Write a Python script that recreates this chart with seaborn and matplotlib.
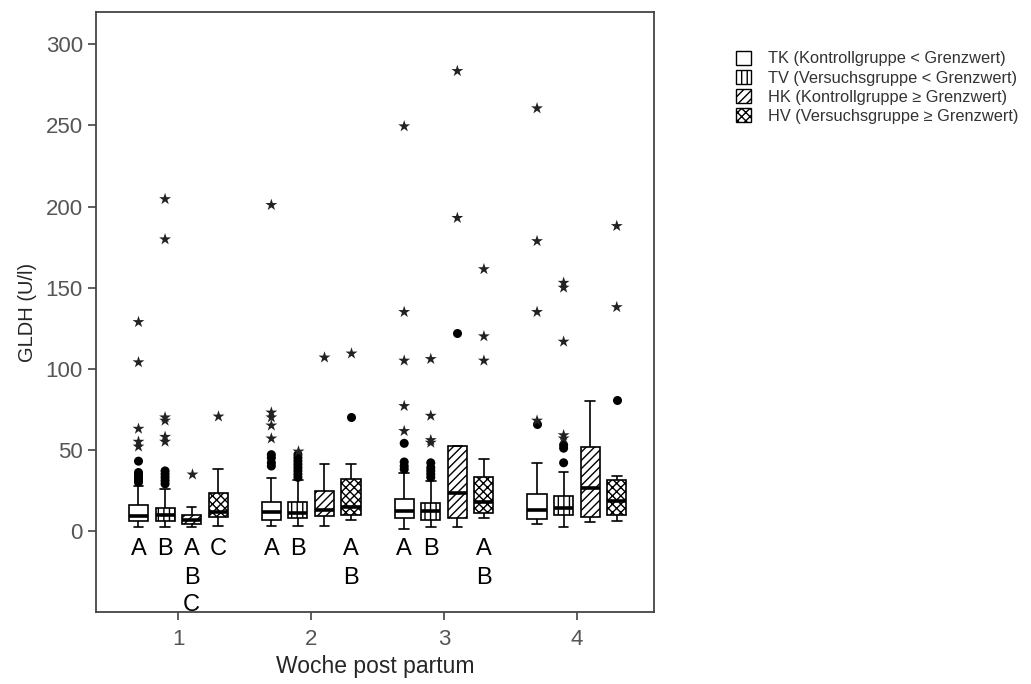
import numpy as np
import pandas as pd
import matplotlib
matplotlib.use('Agg')
import matplotlib.pyplot as plt
from matplotlib.patches import Patch
import seaborn as sns

# Wochen und Gruppen
weeks = ['1', '2', '3', '4']
groups = ['TK (Kontrollgruppe < Grenzwert)', 'TV (Versuchsgruppe < Grenzwert)',
          'HK (Kontrollgruppe \u2265 Grenzwert)', 'HV (Versuchsgruppe \u2265 Grenzwert)']
hatches = ['', '|||', '////', 'xxxx']

# Boxplot-Kennwerte (Reihenfolge: Woche 1 TK, TV, HK, HV, Woche 2 ...)
whisker_low = [2.7, 2.7, 2.5, 3.3,  3.3, 3.3, 3.3, 6.8,  1.2, 2.7, 2.7, 8.2,  4.3, 2.7, 5.7, 6.3]
q1 =          [6.0, 6.2, 4.3, 8.6,  6.8, 7.8, 9.4, 9.9,  7.8, 6.8, 7.8, 11.3, 7.2, 10.0, 8.8, 9.9]
median =      [9.4, 9.9, 6.8, 11.9, 11.5, 10.9, 13.0, 15.0, 12.3, 12.5, 23.2, 17.7, 12.9, 14.0, 26.3, 18.5]
q3 =          [16.0, 14.4, 9.9, 23.4, 17.7, 17.7, 24.6, 32.2, 19.7, 17.0, 52.4, 33.5, 22.8, 21.5, 52.0, 31.4]
whisker_high = [27.7, 26.0, 14.8, 38.0, 32.8, 31.5, 41.3, 41.0, 36.0, 31.0, 52.4, 44.4, 42.0, 36.5, 80.0, 33.9]

# Ausreisser (Kreise)
outliers = [
    [30, 31.5, 33, 34.5, 36, 43], [29, 31, 33, 35, 37], [], [],
    [40, 42, 45, 47], [33, 35, 37, 39, 41, 43, 45, 47], [], [70.4],
    [38, 40, 42.5, 54], [33, 35, 37, 39, 42], [121.8], [],
    [66], [42, 51, 53], [], [80.7],
]
# Extremwerte (Sterne)
extremes = [
    [128.8, 104, 63, 55, 52], [204.6, 179.8, 70, 68, 58, 55], [35], [71],
    [201, 73, 70, 65, 57], [49], [107], [109.7],
    [249.5, 135, 105, 77, 61.6], [106, 71, 56, 54.4], [283.6, 193], [161.4, 120, 105],
    [260.6, 178.7, 135, 68], [153, 150, 116.7, 59, 57], [], [188, 138],
]

# Signifikanz-Buchstaben (Woche, Gruppenindex, Buchstaben)
letters = [
    ('1', 0, 'A'), ('1', 1, 'B'), ('1', 2, 'ABC'), ('1', 3, 'C'),
    ('2', 0, 'A'), ('2', 1, 'B'), ('2', 3, 'AB'),
    ('3', 0, 'A'), ('3', 1, 'B'), ('3', 3, 'AB'),
]
letter_rows = [-11, -29, -46]

# Long-Form-Tabellen aufbauen
box_rows, out_rows, ext_rows = [], [], []
for i, (w, g) in enumerate([(w, g) for w in weeks for g in groups]):
    for v in [whisker_low[i], q1[i], median[i], q3[i], whisker_high[i]]:
        box_rows.append((w, g, v))
    for v in outliers[i]:
        out_rows.append((w, g, v))
    for v in extremes[i]:
        ext_rows.append((w, g, v))
box_df = pd.DataFrame(box_rows, columns=['week', 'group', 'value'])
out_df = pd.DataFrame(out_rows, columns=['week', 'group', 'value'])
ext_df = pd.DataFrame(ext_rows, columns=['week', 'group', 'value'])

sns.set_style('white')
plt.rcParams['font.family'] = ['Liberation Sans', 'DejaVu Sans']
plt.rcParams['hatch.linewidth'] = 1.0

fig = plt.figure(figsize=(10.31, 6.84), dpi=100)
ax = fig.add_axes([0.0931, 0.1053, 0.5412, 0.8772])

black = {g: 'black' for g in groups}
sns.boxplot(data=box_df, x='week', y='value', hue='group', order=weeks, hue_order=groups,
            whis=(0, 100), width=0.8, gap=0.28, palette={g: 'white' for g in groups},
            linecolor='black', linewidth=1.2, showfliers=False,
            medianprops={'linewidth': 2.6}, legend=False, ax=ax)

# Schraffuren je Gruppe
for p in ax.patches:
    xs = p.get_transform().transform(p.get_path().vertices)[:, 0]
    cx = ax.transData.inverted().transform(np.column_stack([xs, np.zeros_like(xs)]))[:, 0].mean()
    h = int(round(((cx + 0.4) % 1) / 0.2 - 0.5))
    p.set_hatch(hatches[h])
    p.set_edgecolor('black')

sns.stripplot(data=out_df, x='week', y='value', hue='group', order=weeks, hue_order=groups,
              dodge=True, jitter=False, palette=black, marker='o', size=6.5,
              linewidth=0, legend=False, ax=ax)
sns.stripplot(data=ext_df, x='week', y='value', hue='group', order=weeks, hue_order=groups,
              dodge=True, jitter=False, palette={g: '#222222' for g in groups}, marker='*',
              size=9, linewidth=0, legend=False, ax=ax)

for w, gi, txt in letters:
    xpos = weeks.index(w) + (gi - 1.5) * 0.2
    for r, ch in enumerate(txt):
        ax.text(xpos, letter_rows[r], ch, ha='center', va='center', fontsize=17, color='black')

ax.set_xlim(-0.62, 3.58)
ax.set_ylim(-50, 320)
ax.set_yticks([0, 50, 100, 150, 200, 250, 300])
ax.set_xlabel('Woche post partum', fontsize=16.5, labelpad=4)
ax.set_ylabel('GLDH (U/l)', fontsize=14.5, labelpad=6)
ax.tick_params(axis='both', which='both', direction='out', length=6, width=1.2,
               color='#444444', labelsize=16, labelcolor='#555555', left=True, bottom=True)
ax.tick_params(axis='x', pad=6)
for s in ax.spines.values():
    s.set_color('#444444')
    s.set_linewidth(1.3)
    s.set_visible(True)

handles = [Patch(facecolor='white', edgecolor='black', hatch=hatches[i], label=groups[i])
           for i in range(4)]
fig.legend(handles=handles, loc='upper left', bbox_to_anchor=(0.700, 0.947), frameon=False,
           fontsize=11.8, handlelength=0.9, handleheight=0.9, handletextpad=1.0,
           labelspacing=0.22, labelcolor='#333333')

fig.savefig('out.png', dpi=100)
